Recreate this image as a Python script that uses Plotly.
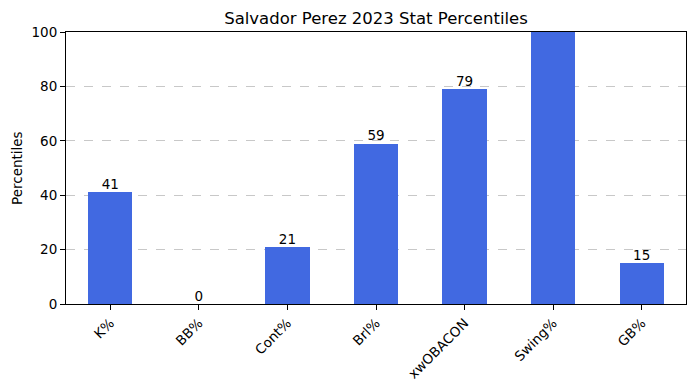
import plotly.graph_objects as go

categories = ["K%", "BB%", "Cont%", "Brl%", "xwOBACON", "Swing%", "GB%"]
percentiles = [41, 0, 21, 59, 79, 100, 15]
y_ticks = [0, 20, 40, 60, 80, 100]

FONT = "DejaVu Sans"
x_idx = list(range(len(categories)))

fig = go.Figure()
fig.add_trace(go.Bar(
    x=x_idx, y=percentiles, width=0.5,
    marker=dict(color="#4169E1", line=dict(width=0)),
    showlegend=False, hoverinfo="x+y",
))
fig.add_trace(go.Scatter(
    x=x_idx, y=percentiles, mode="text",
    text=[str(v) for v in percentiles],
    textposition="top center",
    textfont=dict(family=FONT, size=13.5, color="black"),
    cliponaxis=True, showlegend=False, hoverinfo="skip",
))

axis_common = dict(
    showline=True, linecolor="black", linewidth=1, mirror=True,
    ticks="outside", ticklen=5, tickcolor="black", tickwidth=1,
    tickfont=dict(family=FONT, size=13.5, color="black"),
    zeroline=False, automargin=False,
)

fig.update_layout(
    width=695, height=390,
    margin=dict(l=58, r=17, t=24, b=94, autoexpand=False),
    paper_bgcolor="white", plot_bgcolor="white",
    title=dict(text="Salvador Perez 2023 Stat Percentiles",
               font=dict(family=FONT, size=16.5, color="black"),
               x=0.5, xref="paper", xanchor="center",
               y=1 - 10 / 390, yref="container", yanchor="middle", automargin=False),
    xaxis=dict(range=[-0.5, 6.5], tickmode="array", tickvals=x_idx,
               ticktext=categories, tickangle=-45, showgrid=False, **axis_common),
    yaxis=dict(range=[0, 100], tickmode="array", tickvals=y_ticks,
               showgrid=True, gridcolor="rgba(176,176,176,0.7)", griddash="dash",
               gridwidth=1, **axis_common),
    annotations=[dict(text="Percentiles", textangle=-90, xref="paper", yref="paper",
                      x=0, y=0.5, xanchor="center", yanchor="middle", xshift=-49,
                      showarrow=False, font=dict(family=FONT, size=13.5, color="black"))],
    bargap=0,
)

fig.write_html("out.html")
